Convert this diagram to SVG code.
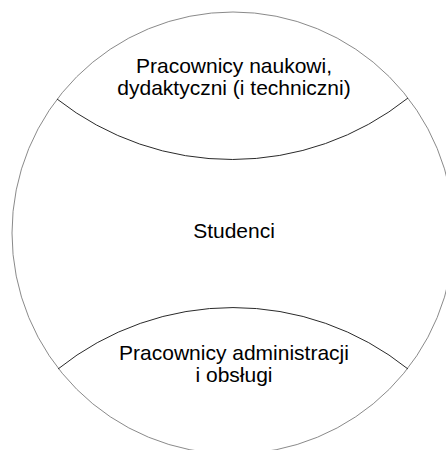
<svg xmlns="http://www.w3.org/2000/svg" width="446" height="450" viewBox="0 0 446 450">
<style>
.outer{fill:none;stroke:#8a8a8a;stroke-width:1}
.chord{fill:none;stroke:#2a2a2a;stroke-width:1}
.lbl{font-family:"Liberation Sans",Arial,sans-serif;font-size:21px;fill:#000;text-anchor:middle}
</style>
<rect width="446" height="450" fill="#fff"/>
<g id="circle"><circle class="outer" cx="233" cy="233" r="221"/></g>
<g id="connectors">
<path class="chord" d="M57,99 A283,283 0 0,0 408,98"/>
<path class="chord" d="M58,369 A280,280 0 0,1 408,369"/>
</g>
<g id="staff-academic"><text class="lbl" x="234" y="73">Pracownicy naukowi,</text><text class="lbl" x="234" y="95">dydaktyczni (i techniczni)</text></g>
<g id="students"><text class="lbl" x="234" y="238">Studenci</text></g>
<g id="staff-admin"><text class="lbl" x="234" y="360">Pracownicy administracji</text><text class="lbl" x="234" y="382">i obsługi</text></g>
</svg>
